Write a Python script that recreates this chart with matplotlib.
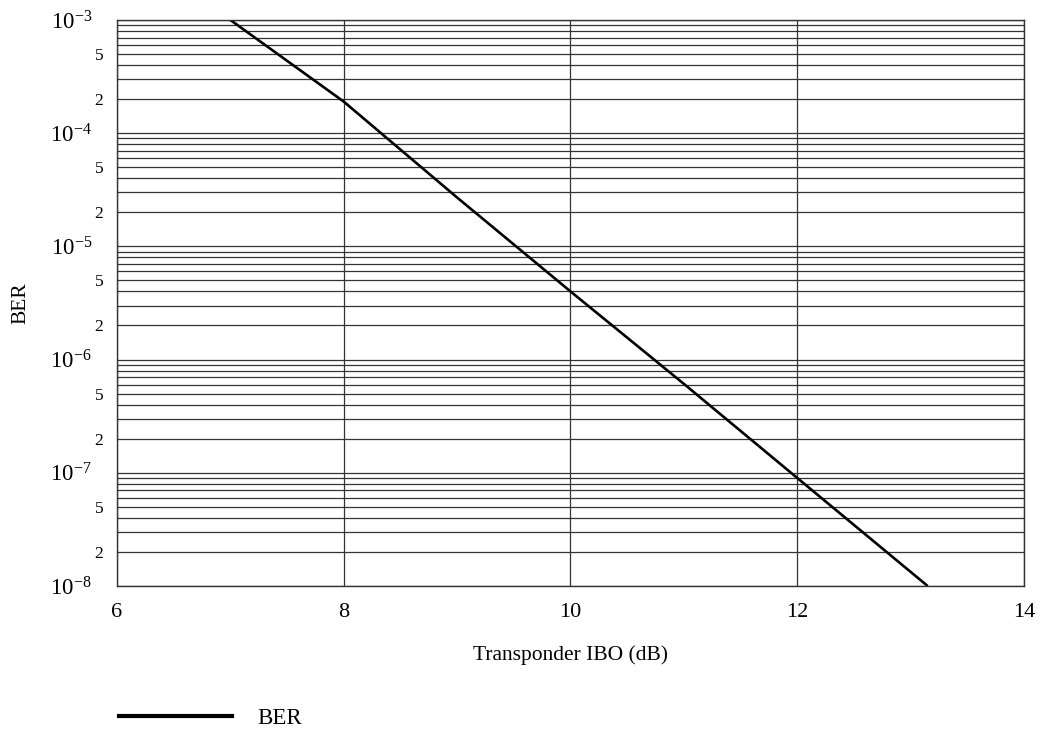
import matplotlib
matplotlib.use("Agg")
import matplotlib.pyplot as plt
from matplotlib.ticker import FixedLocator, FixedFormatter
from matplotlib.lines import Line2D

plt.rcParams['font.family'] = ['Liberation Serif', 'DejaVu Serif']
plt.rcParams['mathtext.fontset'] = 'custom'
plt.rcParams['mathtext.rm'] = 'Liberation Serif'
plt.rcParams['mathtext.it'] = 'Liberation Serif:italic'

ibo_db = [7.0, 8.0, 9.0, 10.0, 11.0, 12.0, 13.15]
ber = [1e-3, 1.9e-4, 2.7e-5, 4.0e-6, 6.1e-7, 9.0e-8, 1.0e-8]

x_ticks = [6, 8, 10, 12, 14]
y_major = [1e-8, 1e-7, 1e-6, 1e-5, 1e-4, 1e-3]
y_major_labels = [r'$10^{-8}$', r'$10^{-7}$', r'$10^{-6}$', r'$10^{-5}$', r'$10^{-4}$', r'$10^{-3}$']

fig = plt.figure(figsize=(10.4, 7.29), dpi=100)
ax = fig.add_axes([0.1125, 0.1962, 0.8721, 0.7764])

ax.plot(ibo_db, ber, color='black', lw=1.9, solid_capstyle='butt')

ax.set_yscale('log')
ax.set_xlim(6, 14)
ax.set_ylim(1e-8, 1e-3)

ax.set_xticks(x_ticks)
ax.set_xticklabels([str(t) for t in x_ticks], fontsize=16)
ax.yaxis.set_major_locator(FixedLocator(y_major))
ax.yaxis.set_major_formatter(FixedFormatter(y_major_labels))

minor_vals = []
minor_labels = []
for dec in range(-8, -3):
    for m in range(2, 10):
        minor_vals.append(m * 10.0 ** dec)
        minor_labels.append(str(m) if m in (2, 5) else '')
ax.yaxis.set_minor_locator(FixedLocator(minor_vals))
ax.yaxis.set_minor_formatter(FixedFormatter(minor_labels))

ax.tick_params(axis='both', which='both', length=0)
ax.tick_params(axis='y', which='major', labelsize=16.5, pad=18)
ax.tick_params(axis='y', which='minor', labelsize=12.5, pad=10)
ax.tick_params(axis='x', which='major', pad=12)

ax.grid(True, which='major', axis='both', color='#333333', lw=0.9)
ax.grid(True, which='minor', axis='y', color='#333333', lw=0.9)
for s in ax.spines.values():
    s.set_color('#333333')
    s.set_linewidth(1.0)

ax.set_xlabel('Transponder IBO (dB)', fontsize=15.5, labelpad=17)
ax.set_ylabel('BER', fontsize=15.5, labelpad=14)

handle = Line2D([], [], color='black', lw=3)
fig.legend([handle], ['BER'], loc='center left', bbox_to_anchor=(0.0945, 0.014),
           frameon=False, fontsize=16.5, handlelength=4.93, handletextpad=1.09)

fig.savefig('out.png', dpi=100)
